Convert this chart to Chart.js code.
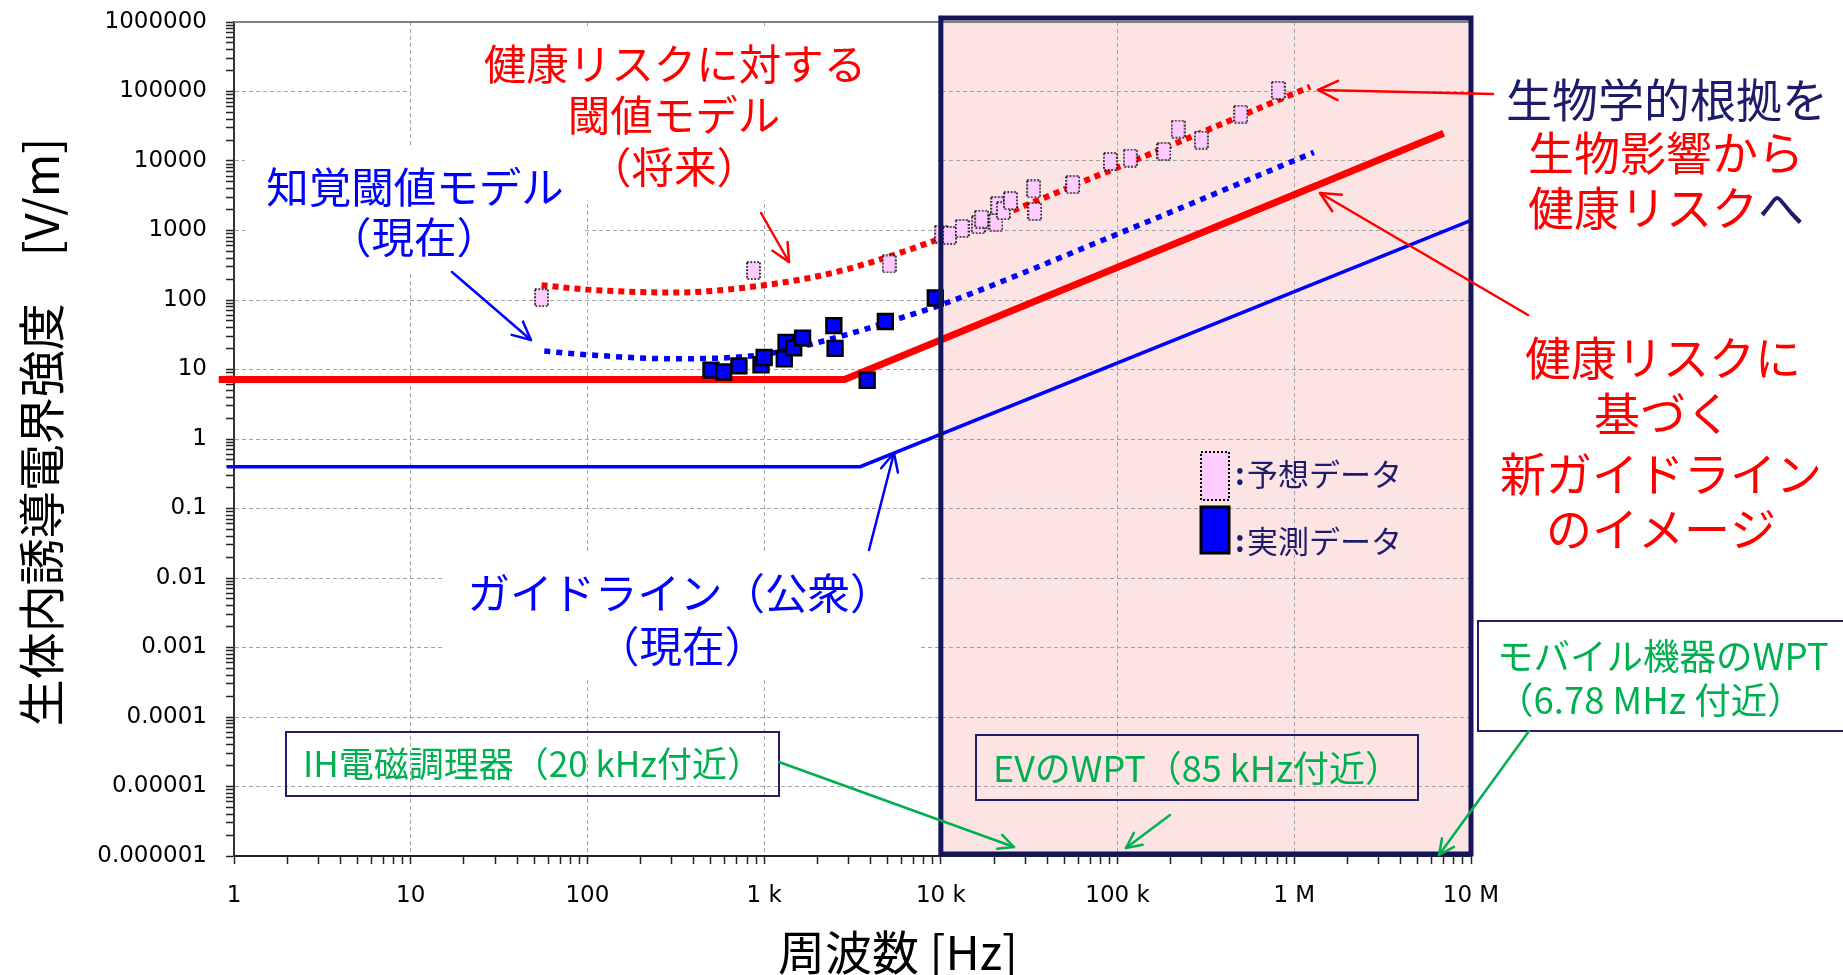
<!DOCTYPE html>
<html lang="ja">
<head>
<meta charset="utf-8">
<title>周波数と生体内誘導電界強度</title>
<script src="https://cdn.jsdelivr.net/npm/chart.js@4.4.1/dist/chart.umd.min.js"></script>
<style>
  html, body { margin: 0; padding: 0; background: #ffffff; }
  #wrap { position: relative; width: 1843px; height: 975px; }
</style>
</head>
<body>
<div id="wrap"><canvas id="chart"></canvas></div>
<script>
// ---- axes: frequency [Hz] and induced electric field [V/m] ----
const xTickValues = [1, 10, 100, 1e3, 1e4, 1e5, 1e6, 1e7];
const xTickLabels = ['1', '10', '100', '1 k', '10 k', '100 k', '1 M', '10 M'];
const yTickValues = [1e-6, 1e-5, 1e-4, 1e-3, 1e-2, 1e-1, 1, 10, 100, 1e3, 1e4, 1e5, 1e6];
const yTickLabels = ['0.000001', '0.00001', '0.0001', '0.001', '0.01', '0.1', '1', '10', '100', '1000', '10000', '100000', '1000000'];

// 健康リスクに基づく新ガイドライン（イメージ）
const newGuideFreq = [0.82, 2850, 7.0e6];
const newGuideField = [7.2, 7.2, 25000];

// ガイドライン（公衆・現在）
const publicGuideFreq = [0.91, 3500, 1e7];
const publicGuideField = [0.4, 0.4, 1400];

// 健康リスクに対する閾値モデル（将来）
const riskModelFreq = [55, 100, 300, 1000, 2700, 10000, 100000, 1230000];
const riskModelField = [163, 141, 128, 163, 262, 770, 8100, 117000];

// 知覚閾値モデル（現在）
const perceptModelFreq = [57, 100, 300, 1000, 2700, 5900, 10000, 100000, 1290000];
const perceptModelField = [18.4, 16.3, 14.3, 16.5, 30, 55, 85, 890, 13300];

// 予想データ
const predictedFreq = [55, 870, 5100, 10100, 11200, 13200, 16300, 17000, 20500, 21000, 22600,
  24800, 33500, 34000, 55800, 91000, 118000, 183000, 220000, 298000, 498000, 811000];
const predictedField = [108, 265, 330, 890, 850, 1070, 1210, 1460, 1310, 2280, 1930,
  2690, 3970, 1880, 4580, 9860, 11000, 13700, 28800, 20000, 47200, 104000];

// 実測データ
const measuredFreq = [500, 590, 720, 960, 1000, 1300, 1330, 1470, 1650, 2480, 2520, 3830, 4850, 9300];
const measuredField = [9.8, 9.2, 11.3, 11.7, 14.9, 14.3, 24.6, 20.5, 28.3, 42.7, 20.1, 7.0, 49, 107];

// highlighted WPT band (10 kHz – 10 MHz)
const wptBand = [1e4, 1e7];

const RED = '#ff0000';
const BLUE = '#0000ff';
const NAVY = '#1c1c6b';
const GREEN = '#00b050';
const JP = '"Noto Sans CJK JP", "Noto Sans", sans-serif';

const pairs = (xs, ys) => xs.map((x, i) => ({ x, y: ys[i] }));

// tick positions 1..9 × 10^n between two decades
function logTicks(minExp, maxExp) {
  const out = [];
  for (let e = minExp; e < maxExp; e++) {
    for (let m = 1; m <= 9; m++) out.push(Number((m * Math.pow(10, e)).toPrecision(12)));
  }
  out.push(Math.pow(10, maxExp));
  return out;
}
const sameDecade = (a, b) => Math.abs(Math.log10(a) - Math.log10(b)) < 1e-6;
function labelFor(v, values, labels) {
  const i = values.findIndex(t => sameDecade(t, v));
  return i >= 0 ? labels[i] : '';
}
function gridColorFor(values) {
  return (c) => {
    if (!c.tick) return 'rgba(0,0,0,0)';
    const v = c.tick.value;
    const first = values[0], last = values[values.length - 1];
    if (sameDecade(v, first) || sameDecade(v, last)) return 'rgba(0,0,0,0)';
    return values.some(t => sameDecade(t, v)) ? '#a3a3a3' : 'rgba(0,0,0,0)';
  };
}

// marker for predicted values: pale pink box with dotted outline
function dottedBox(w, h) {
  const c = document.createElement('canvas');
  c.width = w + 2; c.height = h + 2;
  const g = c.getContext('2d');
  g.fillStyle = '#ffccff';
  g.fillRect(1, 1, w, h);
  g.strokeStyle = '#000';
  g.lineWidth = 1.7;
  g.setLineDash([1.7, 1.7]);
  g.strokeRect(1, 1, w, h);
  return c;
}
const predictedMarker = dottedBox(13, 17);

// ---- annotation layout ----
const whitePanels = [
  { x: 411, y: 28, w: 527, h: 172 },
  { x: 245, y: 147, w: 337, h: 125 },
  { x: 445, y: 553, w: 475, h: 125 }
];

const notes = [
  { x: 675, y: 64, size: 42.5, parts: [['健康リスクに対する', RED]] },
  { x: 674, y: 115, size: 42.5, parts: [['閾値モデル', RED]] },
  { x: 674, y: 167, size: 42.5, parts: [['（将来）', RED]] },
  { x: 415, y: 187, size: 42.5, parts: [['知覚閾値モデル', BLUE]] },
  { x: 414, y: 237, size: 42.5, parts: [['（現在）', BLUE]] },
  { x: 680, y: 593, size: 42.5, parts: [['ガイドライン（公衆）', BLUE]] },
  { x: 682, y: 646, size: 42.5, parts: [['（現在）', BLUE]] },
  { x: 1667, y: 100, size: 46, parts: [['生物学的根拠を', NAVY]] },
  { x: 1666, y: 153, size: 46, parts: [['生物影響から', RED]] },
  { x: 1666, y: 208, size: 46, parts: [['健康リスク', RED], ['へ', NAVY]] },
  { x: 1663, y: 358, size: 46, parts: [['健康リスクに', RED]] },
  { x: 1663, y: 414, size: 46, parts: [['基づく', RED]] },
  { x: 1661, y: 474, size: 46, parts: [['新ガイドライン', RED]] },
  { x: 1661, y: 529, size: 46, parts: [['のイメージ', RED]] }
];

const labelBoxes = [
  { x: 286, y: 732, w: 493, h: 64, fill: null, align: 'center', size: 35,
    lines: [{ t: 'IH電磁調理器（20 kHz付近）', y: 764 }] },
  { x: 976, y: 735, w: 442, h: 65, fill: null, align: 'center', size: 36,
    lines: [{ t: 'EVのWPT（85 kHz付近）', y: 768 }] },
  { x: 1478, y: 621, w: 380, h: 110, fill: '#ffffff', align: 'left', tx: 1497, size: 36.5,
    lines: [{ t: 'モバイル機器のWPT', y: 656 }, { t: '（6.78 MHz 付近）', y: 700 }] }
];

const arrows = [
  { from: [761, 213], to: [789, 262], color: RED, w: 2.5, head: 20 },
  { from: [452, 272], to: [531, 340], color: BLUE, w: 2.5, head: 20 },
  { from: [869, 550], to: [894, 453], color: BLUE, w: 2.5, head: 20 },
  { from: [1493, 94], to: [1318, 90], color: RED, w: 2.5, head: 22 },
  { from: [1528, 315], to: [1320, 193], color: RED, w: 2.5, head: 22 },
  { from: [779, 762], to: [1014, 847], color: GREEN, w: 2.5, head: 17 },
  { from: [1170, 815], to: [1126, 848], color: GREEN, w: 2.5, head: 17 },
  { from: [1529, 731], to: [1439, 855], color: GREEN, w: 2.5, head: 17 }
];

function drawParts(ctx, parts, cx, y, font) {
  ctx.font = font;
  ctx.textBaseline = 'middle';
  ctx.textAlign = 'left';
  const total = parts.reduce((s, [t]) => s + ctx.measureText(t).width, 0);
  let x = cx - total / 2;
  for (const [t, c] of parts) {
    ctx.fillStyle = c;
    ctx.fillText(t, x, y);
    x += ctx.measureText(t).width;
  }
}

function drawArrow(ctx, a) {
  const [x0, y0] = a.from, [x1, y1] = a.to;
  const ang = Math.atan2(y1 - y0, x1 - x0);
  const spread = 0.45;
  ctx.strokeStyle = a.color;
  ctx.lineWidth = a.w;
  ctx.lineCap = 'round';
  ctx.lineJoin = 'round';
  ctx.beginPath();
  ctx.moveTo(x0, y0);
  ctx.lineTo(x1, y1);
  ctx.stroke();
  ctx.beginPath();
  ctx.moveTo(x1 - a.head * Math.cos(ang - spread), y1 - a.head * Math.sin(ang - spread));
  ctx.lineTo(x1, y1);
  ctx.lineTo(x1 - a.head * Math.cos(ang + spread), y1 - a.head * Math.sin(ang + spread));
  ctx.stroke();
}

const decor = {
  id: 'decor',
  beforeDraw(chart) {
    const { ctx, scales: { x }, chartArea: a } = chart;
    ctx.save();
    ctx.fillStyle = '#ffffff';
    ctx.fillRect(0, 0, chart.width, chart.height);
    const x0 = x.getPixelForValue(wptBand[0]);
    const x1 = x.getPixelForValue(wptBand[1]);
    ctx.fillStyle = '#fde4e4';
    ctx.fillRect(x0, a.top - 4, x1 - x0, a.bottom - a.top + 4);
    ctx.restore();
  },
  beforeDatasetsDraw(chart) {
    const { ctx, chartArea: a } = chart;
    ctx.save();
    ctx.fillStyle = '#ffffff';
    for (const p of whitePanels) ctx.fillRect(p.x, p.y, p.w, p.h);
    // top frame of the plot area
    ctx.strokeStyle = '#808080';
    ctx.lineWidth = 2;
    ctx.beginPath();
    ctx.moveTo(a.left, a.top);
    ctx.lineTo(a.right, a.top);
    ctx.stroke();
    ctx.restore();
  },
  afterDatasetsDraw(chart) {
    const { ctx, scales: { x }, chartArea: a } = chart;
    ctx.save();

    // WPT band frame
    const x0 = x.getPixelForValue(wptBand[0]);
    const x1 = x.getPixelForValue(wptBand[1]);
    ctx.strokeStyle = '#15155a';
    ctx.lineWidth = 5;
    ctx.lineJoin = 'miter';
    ctx.strokeRect(x0, a.top - 4, x1 - x0, a.bottom - 2 - (a.top - 4));

    // legend
    ctx.fillStyle = '#ffccff';
    ctx.fillRect(1201, 452, 28, 48);
    ctx.strokeStyle = '#000';
    ctx.lineWidth = 2;
    ctx.setLineDash([2, 2]);
    ctx.strokeRect(1201, 452, 28, 48);
    ctx.setLineDash([]);
    ctx.fillStyle = '#0000ff';
    ctx.fillRect(1201, 507, 28, 46);
    ctx.lineWidth = 3;
    ctx.strokeRect(1201, 507, 28, 46);
    ctx.font = 'bold 30px ' + JP;
    ctx.fillStyle = NAVY;
    ctx.textAlign = 'left';
    ctx.textBaseline = 'middle';
    ctx.fillText(':', 1235, 474);
    ctx.fillText(':', 1235, 541);
    ctx.font = '31px ' + JP;
    ctx.fillText('予想データ', 1247, 474);
    ctx.fillText('実測データ', 1247, 541);

    // free text
    for (const n of notes) drawParts(ctx, n.parts, n.x, n.y, n.size + 'px ' + JP);

    // framed labels
    for (const b of labelBoxes) {
      if (b.fill) { ctx.fillStyle = b.fill; ctx.fillRect(b.x, b.y, b.w, b.h); }
      ctx.strokeStyle = '#221c66';
      ctx.lineWidth = 2;
      ctx.strokeRect(b.x, b.y, b.w, b.h);
      ctx.font = b.size + 'px ' + JP;
      ctx.fillStyle = GREEN;
      ctx.textBaseline = 'middle';
      for (const l of b.lines) {
        if (b.align === 'center') {
          ctx.textAlign = 'center';
          ctx.fillText(l.t, b.x + b.w / 2, l.y);
        } else {
          ctx.textAlign = 'left';
          ctx.fillText(l.t, b.tx, l.y);
        }
      }
    }

    // arrows
    for (const ar of arrows) drawArrow(ctx, ar);

    // axis titles
    ctx.fillStyle = '#000';
    ctx.font = '47px ' + JP;
    ctx.textAlign = 'center';
    ctx.textBaseline = 'middle';
    ctx.fillText('周波数 [Hz]', 898, 952);
    ctx.translate(41, 432);
    ctx.rotate(-Math.PI / 2);
    ctx.fillText('生体内誘導電界強度　[V/m]', 0, 0);

    ctx.restore();
  }
};

const tickFont = { family: '"DejaVu Sans", sans-serif', size: 23 };

new Chart(document.getElementById('chart'), {
  type: 'line',
  data: {
    datasets: [
      {
        label: '実測データ',
        data: pairs(measuredFreq, measuredField),
        showLine: false,
        pointStyle: 'rect',
        pointRadius: 10.5,
        backgroundColor: '#0000ff',
        borderColor: '#000000',
        borderWidth: 2.5,
        order: 0
      },
      {
        label: '予想データ',
        data: pairs(predictedFreq, predictedField),
        showLine: false,
        pointStyle: predictedMarker,
        pointRadius: 8,
        order: 1
      },
      {
        label: '健康リスクに対する閾値モデル（将来）',
        data: pairs(riskModelFreq, riskModelField),
        borderColor: RED,
        borderWidth: 6,
        borderDash: [6, 5],
        pointRadius: 0,
        cubicInterpolationMode: 'monotone',
        order: 2
      },
      {
        label: '知覚閾値モデル（現在）',
        data: pairs(perceptModelFreq, perceptModelField),
        borderColor: BLUE,
        borderWidth: 5.5,
        borderDash: [6, 6],
        pointRadius: 0,
        cubicInterpolationMode: 'monotone',
        order: 3
      },
      {
        label: '健康リスクに基づく新ガイドライン',
        data: pairs(newGuideFreq, newGuideField),
        borderColor: RED,
        borderWidth: 7,
        pointRadius: 0,
        tension: 0,
        clip: { left: 20, top: 0, right: 0, bottom: 0 },
        order: 4
      },
      {
        label: 'ガイドライン（公衆）',
        data: pairs(publicGuideFreq, publicGuideField),
        borderColor: BLUE,
        borderWidth: 3.5,
        pointRadius: 0,
        tension: 0,
        clip: { left: 20, top: 0, right: 0, bottom: 0 },
        order: 5
      }
    ]
  },
  options: {
    responsive: true,
    maintainAspectRatio: false,
    animation: false,
    events: [],
    layout: { padding: { left: 0, top: 22, right: 372, bottom: 0 } },
    plugins: {
      legend: { display: false },
      tooltip: { enabled: false },
      title: { display: false }
    },
    scales: {
      x: {
        type: 'logarithmic',
        position: 'bottom',
        min: 1,
        max: 1e7,
        afterBuildTicks: (s) => { s.ticks = logTicks(0, 7).map(v => ({ value: v })); },
        afterFit: (s) => { s.height = 119; },
        ticks: {
          autoSkip: false,
          maxRotation: 0,
          minRotation: 0,
          padding: 18,
          color: '#000',
          font: tickFont,
          callback: (v) => labelFor(v, xTickValues, xTickLabels)
        },
        grid: {
          color: gridColorFor(xTickValues),
          lineWidth: 1,
          drawTicks: true,
          tickLength: 8,
          tickColor: '#222',
          tickWidth: 1.5,
          tickBorderDash: []
        },
        border: { display: true, color: '#222', width: 2, dash: [4, 3] }
      },
      y: {
        type: 'logarithmic',
        position: 'left',
        min: 1e-6,
        max: 1e6,
        afterBuildTicks: (s) => { s.ticks = logTicks(-6, 6).map(v => ({ value: v })); },
        afterFit: (s) => { s.width = 234; s.paddingTop = 0; s.paddingBottom = 0; },
        ticks: {
          autoSkip: false,
          padding: 19,
          color: '#000',
          font: tickFont,
          callback: (v) => labelFor(v, yTickValues, yTickLabels)
        },
        grid: {
          color: gridColorFor(yTickValues),
          lineWidth: 1,
          drawTicks: true,
          tickLength: 8,
          tickColor: '#222',
          tickWidth: 1.5,
          tickBorderDash: []
        },
        border: { display: true, color: '#333', width: 2, dash: [4, 3] }
      }
    }
  },
  plugins: [decor]
});
</script>
</body>
</html>
